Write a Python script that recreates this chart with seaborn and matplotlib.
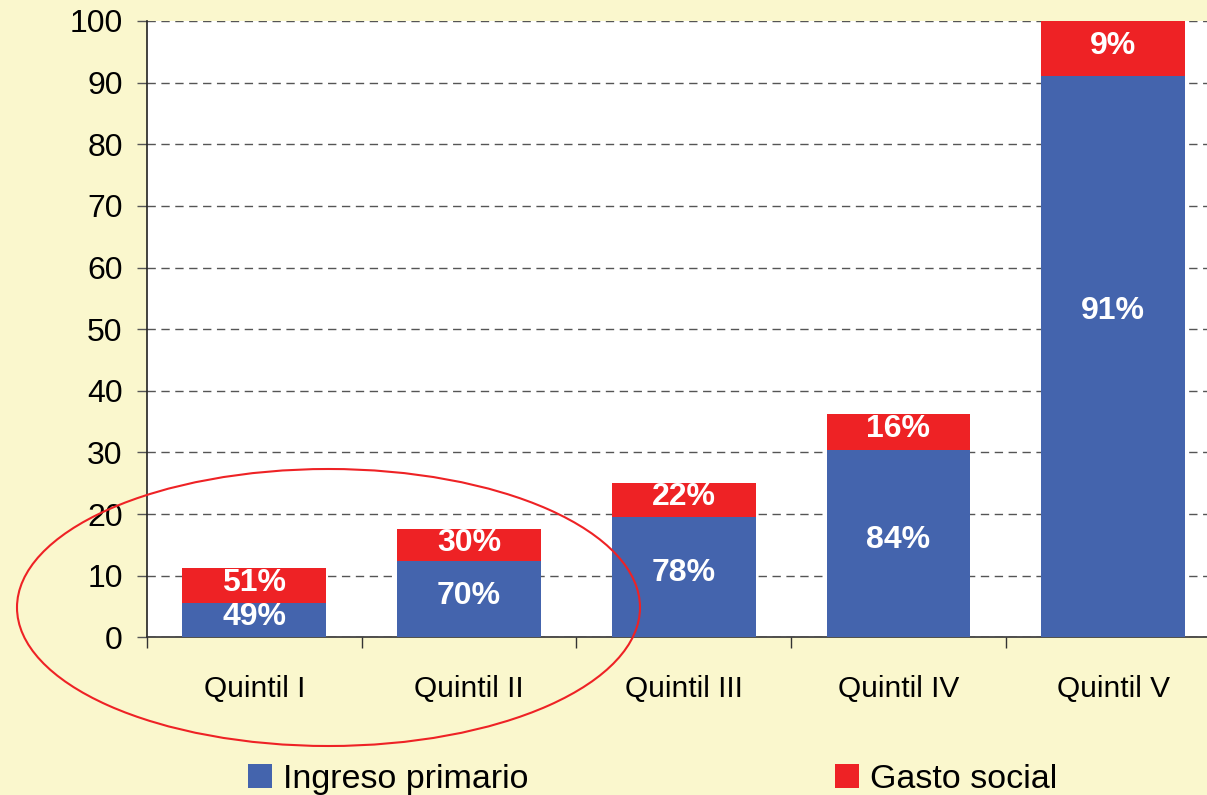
import matplotlib
matplotlib.use("Agg")
import matplotlib.pyplot as plt
import seaborn as sns
import numpy as np
from matplotlib.patches import Patch, Ellipse
from matplotlib.ticker import FixedLocator

# ---- data ----
categories = ["Quintil I", "Quintil II", "Quintil III", "Quintil IV", "Quintil V"]
ingreso_primario = [5.5, 12.3, 19.6, 30.45, 91.0]
gasto_social = [5.75, 5.3, 5.45, 5.8, 9.0]
ingreso_labels = ["49%", "70%", "78%", "84%", "91%"]
gasto_labels = ["51%", "30%", "22%", "16%", "9%"]
yticks = [0, 10, 20, 30, 40, 50, 60, 70, 80, 90, 100]

BLUE = "#4464AD"
RED = "#EE2225"
BG = "#FAF7CD"

sns.set_theme(style="white")
plt.rcParams["font.family"] = ["Liberation Sans", "DejaVu Sans"]

W, H = 1207, 795
fig = plt.figure(figsize=(W / 100, H / 100), dpi=100, facecolor=BG)
ax_left = 147 / W
ax_bottom = 1 - 637.3 / H
ax_top = 1 - 21 / H
ax_right = 1220.5 / W
ax = fig.add_axes([ax_left, ax_bottom, ax_right - ax_left, ax_top - ax_bottom])
ax.set_facecolor("white")

totals = [a + b for a, b in zip(ingreso_primario, gasto_social)]
sns.barplot(x=categories, y=totals, color=RED, saturation=1, width=0.67, ax=ax, zorder=3)
sns.barplot(x=categories, y=ingreso_primario, color=BLUE, saturation=1, width=0.67, ax=ax, zorder=3)

red_bars = ax.containers[0]
blue_bars = ax.containers[1]
for b in list(red_bars) + list(blue_bars):
    b.set_edgecolor("none")
    b.set_linewidth(0)

# labels
for i, (rb, bb) in enumerate(zip(red_bars, blue_bars)):
    x = bb.get_x() + bb.get_width() / 2
    yb = ingreso_primario[i] / 2 + 0.6
    if i == 4:
        yb = 53
    yr = ingreso_primario[i] + gasto_social[i] / 2 + 0.4
    ax.text(x, yb, ingreso_labels[i], ha="center", va="center", color="white",
            fontsize=23, fontweight="bold", zorder=5)
    ax.text(x, yr, gasto_labels[i], ha="center", va="center", color="white",
            fontsize=23, fontweight="bold", zorder=5)

ax.set_ylim(0, 100)
ax.set_xlim(-0.5, 4.5)
ax.set_yticks(yticks)
ax.set_yticklabels([str(v) for v in yticks])
ax.grid(axis="y", linestyle=(0, (6, 4)), color="#555555", linewidth=1.0, zorder=0)
ax.set_axisbelow(True)

for s in ["top", "right"]:
    ax.spines[s].set_visible(False)
ax.spines["left"].set_color("#222222")
ax.spines["bottom"].set_color("#333333")
ax.spines["left"].set_linewidth(1.2)
ax.spines["bottom"].set_linewidth(1.2)

ax.tick_params(axis="y", which="major", direction="out", length=7.5, width=1,
               color="#555555", labelsize=23, pad=10, left=True, labelcolor="black")
ax.xaxis.set_minor_locator(FixedLocator([-0.5, 0.5, 1.5, 2.5, 3.5, 4.5]))
ax.tick_params(axis="x", which="major", length=0, labelsize=21.5, pad=27, labelcolor="black")
ax.tick_params(axis="x", which="minor", direction="out", length=8, width=1,
               color="#333333", bottom=True)
ax.set_xlabel("")
ax.set_ylabel("")

# ellipse annotation
ell = Ellipse((328.5 / W, 1 - 607.5 / H), 623 / W, 277 / H, transform=fig.transFigure,
              fill=False, edgecolor=RED, linewidth=1.5, zorder=10)
fig.add_artist(ell)

handles = [Patch(facecolor=BLUE, edgecolor="none", label="Ingreso primario"),
           Patch(facecolor=RED, edgecolor="none", label="Gasto social")]
fig.legend(handles=handles, loc="lower left", bbox_to_anchor=(248 / W, 0.0),
           ncol=2, frameon=False, fontsize=24.5, handlelength=0.7, handleheight=0.7,
           handletextpad=0.33, columnspacing=9.0, borderpad=0, borderaxespad=0,
           labelcolor="black")

fig.savefig("out.png", dpi=100, facecolor=BG)
